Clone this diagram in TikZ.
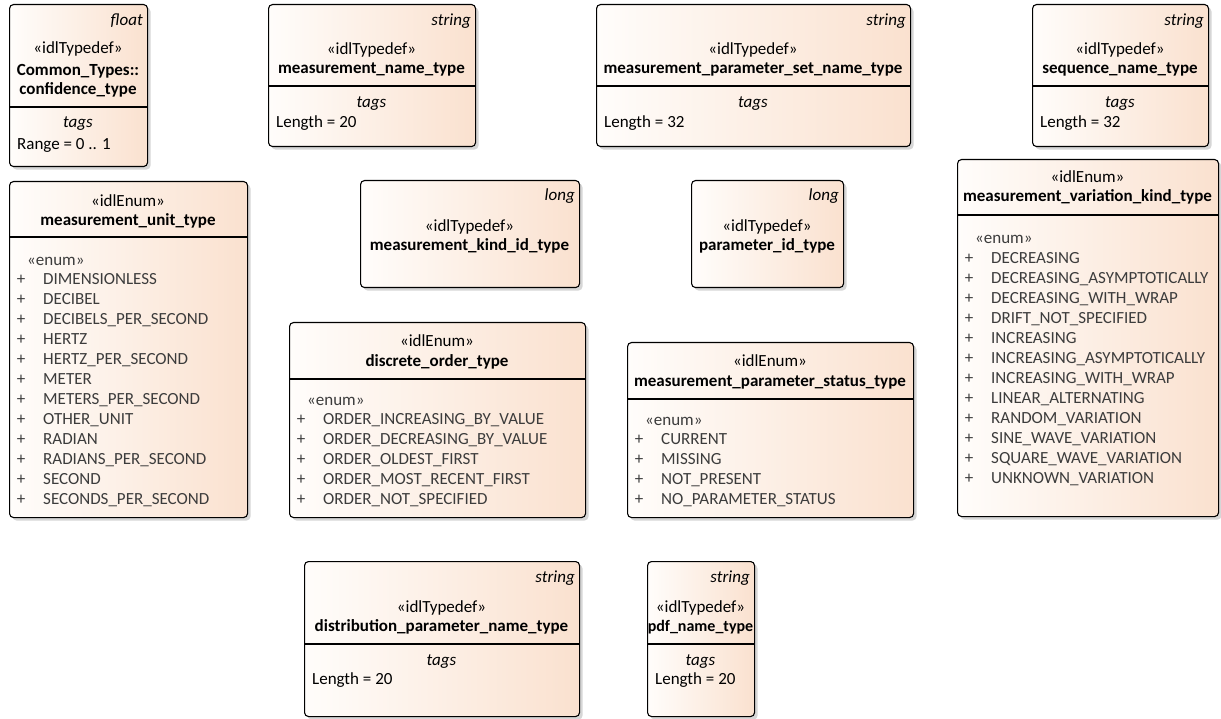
\documentclass[tikz,border=0pt]{standalone}
\usepackage{fontspec}
\setmainfont{Carlito}
\usetikzlibrary{positioning,shadows}

\definecolor{boxleft}{RGB}{255,253,251}
\definecolor{boxright}{RGB}{250,225,207}
\definecolor{itemgray}{RGB}{60,60,60}
\newcommand{\boxfont}{\fontsize{17}{20}\selectfont}

\begin{document}
\begin{tikzpicture}[x=1pt,y=-1pt]

    \tikzset{
        umlbox/.style={
            draw,
            rounded corners=4pt,
            line width=1.1pt,
            left color=boxleft,
            right color=boxright,
            anchor=north west,
            inner sep=0pt,
            drop shadow={shadow xshift=3pt, shadow yshift=-3pt,
                fill=black!20, opacity=0.8}
        },
        lbl/.style={inner sep=0pt, text height=12pt, text depth=3.5pt,
            font=\boxfont},
        stereo/.style={lbl},
        title/.style={lbl, font=\boxfont\bfseries},
        typename/.style={lbl, anchor=east, font=\boxfont\itshape},
        tagshead/.style={lbl, font=\boxfont\itshape},
        tagval/.style={lbl, anchor=west},
        plus/.style={lbl, text=itemgray},
        item/.style={lbl, anchor=west, text=itemgray},
        divider/.style={line width=1.1pt}
    }

    \useasboundingbox (0,0) rectangle (1221,719);

    % top row
    \node[umlbox, minimum width=138pt, minimum height=162pt] (conf) at (9,4) {};
    \node[typename] (conf-t) at (143,21) {float};
    \node[stereo] (conf-s) at (78,49) {«idlTypedef»};
    \node[title] (conf-n1) at (78,71) {Common\_Types::};
    \node[title] (conf-n2) at (78,90) {confidence\_type};
    \draw[divider] (conf.west |- 0,107) -- (conf.east |- 0,107);
    \node[tagshead] (conf-g) at (78,123) {tags};
    \node[tagval] (conf-v) at (17,145) {Range = 0 .. 1};

    \node[umlbox, minimum width=207pt, minimum height=142pt] (mname) at (268,4) {};
    \node[typename] (mname-t) at (471,21) {string};
    \node[stereo] (mname-s) at (371.5,50) {«idlTypedef»};
    \node[title] (mname-n) at (371.5,69) {measurement\_name\_type};
    \draw[divider] (mname.west |- 0,86) -- (mname.east |- 0,86);
    \node[tagshead] (mname-g) at (371.5,103) {tags};
    \node[tagval] (mname-v) at (276,123) {Length = 20};

    \node[umlbox, minimum width=314pt, minimum height=142pt] (pset) at (596,4) {};
    \node[typename] (pset-t) at (906,21) {string};
    \node[stereo] (pset-s) at (753,50) {«idlTypedef»};
    \node[title] (pset-n) at (753,69) {measurement\_parameter\_set\_name\_type};
    \draw[divider] (pset.west |- 0,86) -- (pset.east |- 0,86);
    \node[tagshead] (pset-g) at (753,103) {tags};
    \node[tagval] (pset-v) at (604,123) {Length = 32};

    \node[umlbox, minimum width=176pt, minimum height=142pt] (seq) at (1032,4) {};
    \node[typename] (seq-t) at (1204,21) {string};
    \node[stereo] (seq-s) at (1120,50) {«idlTypedef»};
    \node[title] (seq-n) at (1120,69) {sequence\_name\_type};
    \draw[divider] (seq.west |- 0,86) -- (seq.east |- 0,86);
    \node[tagshead] (seq-g) at (1120,103) {tags};
    \node[tagval] (seq-v) at (1040,123) {Length = 32};

    % middle row
    \node[umlbox, minimum width=238pt, minimum height=336pt] (unit) at (9,181) {};
    \node[stereo] (unit-s) at (128,202) {«idlEnum»};
    \node[title] (unit-n) at (128,221) {measurement\_unit\_type};
    \draw[divider] (unit.west |- 0,237) -- (unit.east |- 0,237);
    \node[item] (unit-e) at (27,261) {«enum»};
    \foreach \lit [count=\i] in {DIMENSIONLESS, DECIBEL, DECIBELS\_PER\_SECOND,
        HERTZ, HERTZ\_PER\_SECOND, METER, METERS\_PER\_SECOND, OTHER\_UNIT,
        RADIAN, RADIANS\_PER\_SECOND, SECOND, SECONDS\_PER\_SECOND} {
        \node[plus] (unit-p\i) at (21,{260+20*\i}) {+};
        \node[item] (unit-i\i) at (43,{260+20*\i}) {\lit};
    }

    \node[umlbox, minimum width=219pt, minimum height=107pt] (kind) at (360,180) {};
    \node[typename] (kind-t) at (575,196) {long};
    \node[stereo] (kind-s) at (469.5,227) {«idlTypedef»};
    \node[title] (kind-n) at (469.5,246) {measurement\_kind\_id\_type};

    \node[umlbox, minimum width=152pt, minimum height=107pt] (param) at (691,180) {};
    \node[typename] (param-t) at (839,196) {long};
    \node[stereo] (param-s) at (767,227) {«idlTypedef»};
    \node[title] (param-n) at (767,246) {parameter\_id\_type};

    \node[umlbox, minimum width=296pt, minimum height=195pt] (order) at (289,322) {};
    \node[stereo] (order-s) at (437,342) {«idlEnum»};
    \node[title] (order-n) at (437,362) {discrete\_order\_type};
    \draw[divider] (order.west |- 0,379) -- (order.east |- 0,379);
    \node[item] (order-e) at (307,401) {«enum»};
    \foreach \lit [count=\i] in {ORDER\_INCREASING\_BY\_VALUE,
        ORDER\_DECREASING\_BY\_VALUE, ORDER\_OLDEST\_FIRST,
        ORDER\_MOST\_RECENT\_FIRST, ORDER\_NOT\_SPECIFIED} {
        \node[plus] (order-p\i) at (301,{400+20*\i}) {+};
        \node[item] (order-i\i) at (323,{400+20*\i}) {\lit};
    }

    \node[umlbox, minimum width=286pt, minimum height=175pt] (status) at (627,342) {};
    \node[stereo] (status-s) at (770,362) {«idlEnum»};
    \node[title] (status-n) at (770,382) {measurement\_parameter\_status\_type};
    \draw[divider] (status.west |- 0,399) -- (status.east |- 0,399);
    \node[item] (status-e) at (645,421) {«enum»};
    \foreach \lit [count=\i] in {CURRENT, MISSING, NOT\_PRESENT,
        NO\_PARAMETER\_STATUS} {
        \node[plus] (status-p\i) at (639,{420+20*\i}) {+};
        \node[item] (status-i\i) at (661,{420+20*\i}) {\lit};
    }

    \node[umlbox, minimum width=261pt, minimum height=357pt] (vari) at (957,159) {};
    \node[stereo] (vari-s) at (1087.5,178) {«idlEnum»};
    \node[title] (vari-n) at (1087.5,197) {measurement\_variation\_kind\_type};
    \draw[divider] (vari.west |- 0,215) -- (vari.east |- 0,215);
    \node[item] (vari-e) at (975,239) {«enum»};
    \foreach \lit [count=\i] in {DECREASING, DECREASING\_ASYMPTOTICALLY,
        DECREASING\_WITH\_WRAP, DRIFT\_NOT\_SPECIFIED, INCREASING,
        INCREASING\_ASYMPTOTICALLY, INCREASING\_WITH\_WRAP,
        LINEAR\_ALTERNATING, RANDOM\_VARIATION, SINE\_WAVE\_VARIATION,
        SQUARE\_WAVE\_VARIATION, UNKNOWN\_VARIATION} {
        \node[plus] (vari-p\i) at (969,{239+20*\i}) {+};
        \node[item] (vari-i\i) at (991,{239+20*\i}) {\lit};
    }

    % bottom row
    \node[umlbox, minimum width=275pt, minimum height=155pt] (dist) at (304,561) {};
    \node[typename] (dist-t) at (575,578) {string};
    \node[stereo] (dist-s) at (441.5,608) {«idlTypedef»};
    \node[title] (dist-n) at (441.5,627) {distribution\_parameter\_name\_type};
    \draw[divider] (dist.west |- 0,644) -- (dist.east |- 0,644);
    \node[tagshead] (dist-g) at (441.5,661) {tags};
    \node[tagval] (dist-v) at (312,680) {Length = 20};

    \node[umlbox, minimum width=107pt, minimum height=155pt] (pdf) at (647,561) {};
    \node[typename] (pdf-t) at (750,578) {string};
    \node[stereo] (pdf-s) at (700.5,608) {«idlTypedef»};
    \node[title, font=\fontsize{16}{19}\selectfont\bfseries] (pdf-n) at (700.5,627) {pdf\_name\_type};
    \draw[divider] (pdf.west |- 0,644) -- (pdf.east |- 0,644);
    \node[tagshead] (pdf-g) at (700.5,661) {tags};
    \node[tagval] (pdf-v) at (655,680) {Length = 20};

\end{tikzpicture}
\end{document}
